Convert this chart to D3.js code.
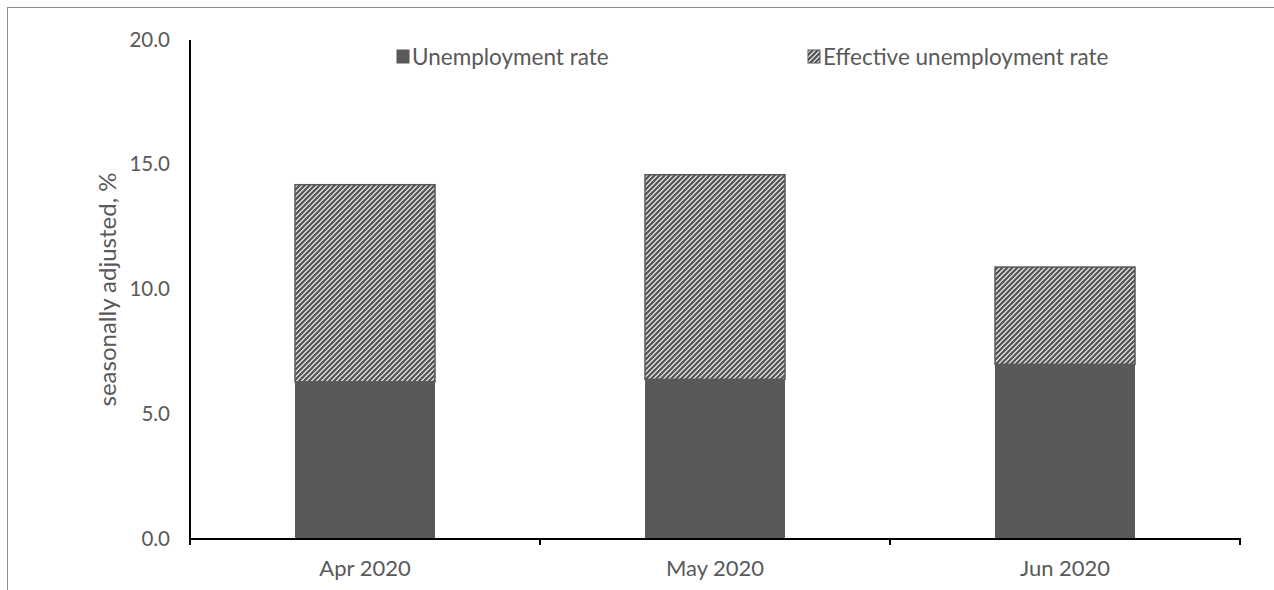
<!DOCTYPE html>
<html>
<head>
<meta charset="utf-8">
<script src="https://cdn.jsdelivr.net/npm/d3@7"></script>
<style>
  body { margin: 0; background: #fff; }
  text { font-family: Lato, "Open Sans", sans-serif; fill: #595959; }
</style>
</head>
<body>
<div id="chart"></div>
<script>
// data
const months = ['Apr 2020', 'May 2020', 'Jun 2020'];
const unemployment = [6.3, 6.4, 7.0];
const effective = [14.2, 14.6, 10.9];
const yTicks = [0, 5, 10, 15, 20];

const W = 1274, H = 590;
const margin = { top: 40, right: 34, bottom: 51, left: 190 };
const width = W - margin.left - margin.right;
const height = H - margin.top - margin.bottom;
const barColor = '#595959';

const svg = d3.select('#chart').append('svg')
    .attr('width', W)
    .attr('height', H);

// pattern for the effective rate
const defs = svg.append('defs');
const pat = defs.append('pattern')
    .attr('id', 'hatch')
    .attr('patternUnits', 'userSpaceOnUse')
    .attr('width', 5)
    .attr('height', 5);
pat.append('rect').attr('width', 5).attr('height', 5).attr('fill', '#fff');
pat.append('path')
    .attr('d', 'M-1,1 l2,-2 M0,5 l5,-5 M4,6 l2,-2')
    .attr('stroke', barColor)
    .attr('stroke-width', 2.5);

// outer chart border
svg.append('rect')
    .attr('x', 7.5).attr('y', 7.5)
    .attr('width', W + 20).attr('height', H + 20)
    .attr('fill', 'none')
    .attr('stroke', '#8c8c8c')
    .attr('stroke-width', 1);

const g = svg.append('g')
    .attr('transform', `translate(${margin.left},${margin.top})`);

const x = d3.scaleBand().domain(months).range([0, width])
    .paddingInner(0.6).paddingOuter(0.3);
const xOuter = d3.scaleBand().domain(months).range([0, width]);
const y = d3.scaleLinear().domain([0, 20]).range([height, 0]);

// effective bars (stacked on top, hatched)
g.selectAll('.eff').data(months).enter().append('rect')
    .attr('class', 'eff')
    .attr('x', d => x(d))
    .attr('width', x.bandwidth())
    .attr('y', (d, i) => y(effective[i]))
    .attr('height', (d, i) => y(unemployment[i]) - y(effective[i]))
    .attr('fill', 'url(#hatch)')
    .attr('stroke', barColor)
    .attr('stroke-width', 1.5);

// unemployment bars
g.selectAll('.une').data(months).enter().append('rect')
    .attr('class', 'une')
    .attr('x', d => x(d))
    .attr('width', x.bandwidth())
    .attr('y', (d, i) => y(unemployment[i]))
    .attr('height', (d, i) => y(0) - y(unemployment[i]))
    .attr('fill', barColor);

// y axis
const yAxis = g.append('g')
    .call(d3.axisLeft(y).tickValues(yTicks).tickFormat(d3.format('.1f')).tickSize(0).tickPadding(20));
yAxis.select('.domain').attr('stroke', '#000').attr('stroke-width', 2)
    .attr('d', `M0,${y(20)}V${height + 6}`);
yAxis.selectAll('text').style('font-size', '20.5px').attr('fill', '#595959').attr('dy', '0.3em');

// x axis
const xAxis = g.append('g')
    .attr('transform', `translate(0,${height})`)
    .call(d3.axisBottom(x).tickSize(0).tickPadding(21));
xAxis.select('.domain').attr('stroke', '#000').attr('stroke-width', 2)
    .attr('d', `M0,0H${width}V6`);
xAxis.selectAll('text').style('font-size', '22px').attr('fill', '#595959');
g.append('g').selectAll('line').data(months.slice(1)).enter().append('line')
    .attr('x1', d => xOuter(d)).attr('x2', d => xOuter(d))
    .attr('y1', height).attr('y2', height + 6)
    .attr('stroke', '#000').attr('stroke-width', 2);

// y axis title
svg.append('text')
    .attr('transform', `translate(116,${margin.top + y(10)}) rotate(-90)`)
    .attr('text-anchor', 'middle')
    .style('font-size', '24px')
    .text('seasonally adjusted, %');

// legend
const legend = [
    { label: 'Unemployment rate', fill: barColor, x: 397 },
    { label: 'Effective unemployment rate', fill: 'url(#hatch)', x: 808 }
];
const lg = svg.selectAll('.legend').data(legend).enter().append('g')
    .attr('class', 'legend')
    .attr('transform', d => `translate(${d.x},50)`);
lg.append('rect')
    .attr('width', 12).attr('height', 13)
    .attr('fill', d => d.fill)
    .attr('stroke', barColor).attr('stroke-width', 1);
lg.append('text')
    .attr('x', 15).attr('y', 7)
    .attr('dy', '0.35em')
    .style('font-size', '22.5px')
    .text(d => d.label);
</script>
</body>
</html>
